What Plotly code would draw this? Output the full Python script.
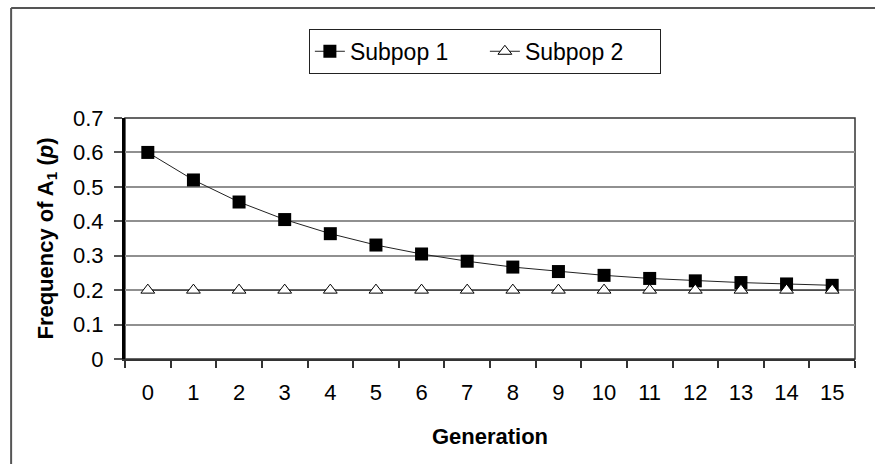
import plotly.graph_objects as go

generations = list(range(16))
tick_labels = [str(g) for g in generations]
subpop1 = [0.60, 0.52, 0.456, 0.405, 0.364, 0.331, 0.305, 0.284,
           0.267, 0.254, 0.243, 0.234, 0.227, 0.222, 0.218, 0.214]
subpop2 = [0.2] * 16

FONT = "Liberation Sans, Arial, sans-serif"
FS = 22

fig = go.Figure()
fig.add_trace(go.Scatter(
    x=generations, y=subpop1, name="Subpop 1", mode="lines+markers",
    line=dict(color="#222222", width=1),
    marker=dict(symbol="square", size=13, color="black", line=dict(color="black", width=0)),
))
fig.add_trace(go.Scatter(
    x=generations, y=subpop2, name="Subpop 2", mode="lines+markers",
    line=dict(color="#222222", width=1),
    marker=dict(symbol="triangle-up", size=12, color="white", line=dict(color="black", width=1)),
))

fig.update_layout(
    width=875, height=464,
    margin=dict(l=125, r=20, t=118, b=105),
    paper_bgcolor="white", plot_bgcolor="white",
    font=dict(family=FONT, size=FS, color="black"),
    showlegend=True,
    legend=dict(
        orientation="h", x=0.493, xanchor="center", y=1.37, yanchor="top",
        bordercolor="#222222", borderwidth=1, bgcolor="white",
        font=dict(family=FONT, size=FS + 1, color="black"),
        entrywidth=130, entrywidthmode="pixels", tracegroupgap=0,
    ),
    shapes=[
        dict(type="line", xref="paper", yref="paper", x0=-0.156, y0=1.456, x1=1.2, y1=1.456,
             line=dict(color="#555555", width=2), layer="below"),
        dict(type="line", xref="paper", yref="paper", x0=-0.156, y0=-0.6, x1=-0.156, y1=1.456,
             line=dict(color="#555555", width=2), layer="below"),
        dict(type="rect", xref="paper", yref="paper", x0=0, y0=0, x1=1, y1=1,
             line=dict(color="#333333", width=1.5), fillcolor="rgba(0,0,0,0)", layer="below"),
    ],
)

fig.update_xaxes(
    range=[-0.5, 15.5], tickmode="array", tickvals=generations, ticktext=tick_labels,
    ticks="", showgrid=False, zeroline=False,
    showline=True, linecolor="#333333", linewidth=2,
    ticklabelstandoff=13,
    tickfont=dict(family=FONT, size=FS, color="black"),
    minor=dict(tickmode="array", tickvals=[g - 0.5 for g in range(17)],
               ticks="outside", ticklen=7, tickcolor="#333333", tickwidth=2, showgrid=False),
    title=dict(text="<b>Generation</b>", font=dict(family=FONT, size=FS, color="black"), standoff=24),
)
fig.update_yaxes(
    range=[0, 0.7], tickmode="linear", tick0=0, dtick=0.1,
    ticks="outside", ticklen=8, tickcolor="#555555", tickwidth=1.5,
    showgrid=True, gridcolor="#909090", gridwidth=1.5, zeroline=False,
    showline=True, linecolor="black", linewidth=3,
    ticklabelstandoff=6,
    tickfont=dict(family=FONT, size=FS, color="black"),
    title=dict(text="<b>Frequency of A<sub>1</sub> (<i>p</i>)</b>",
               font=dict(family=FONT, size=FS, color="black"), standoff=14),
)

fig.write_html("out.html")
